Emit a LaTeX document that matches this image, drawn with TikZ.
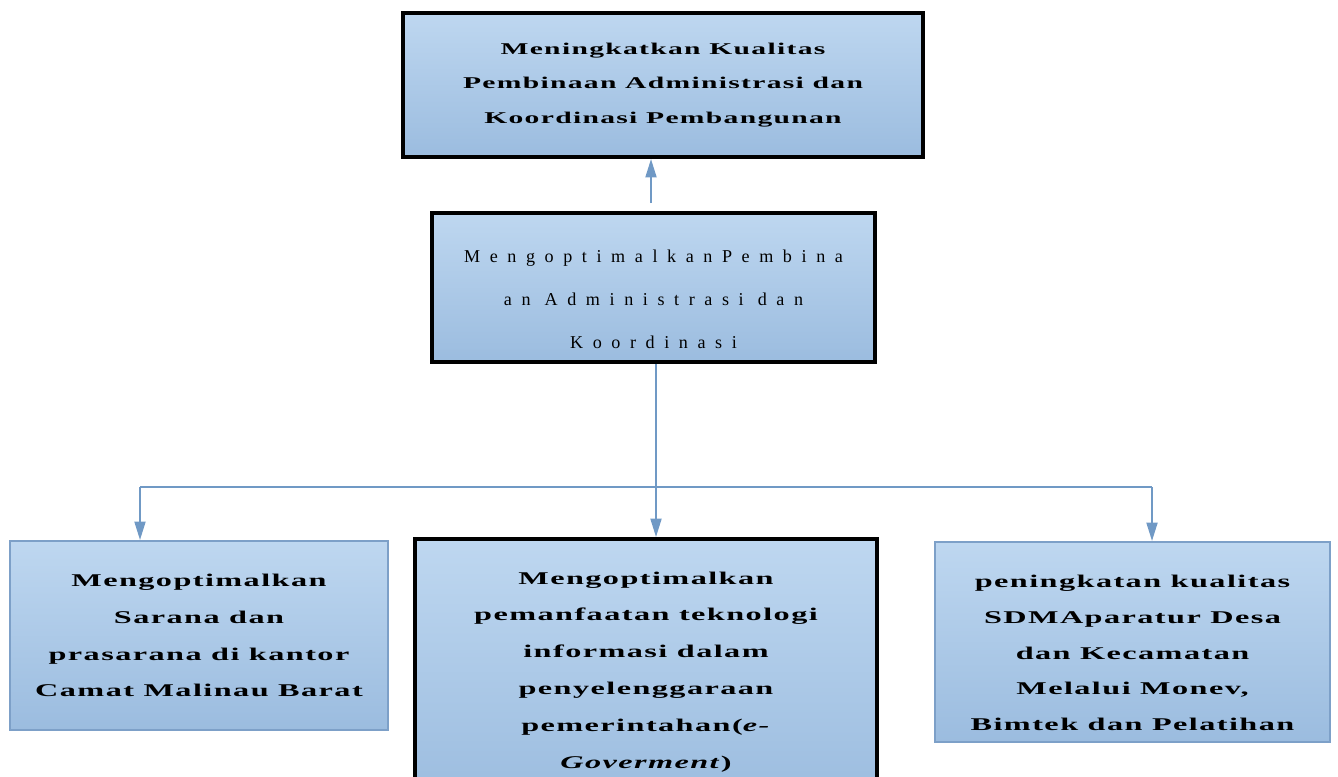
\documentclass[tikz,border=0pt]{standalone}
\usepackage{fontspec}
\setmainfont{Liberation Serif}
\newfontfamily\widefont[FakeStretch=1.8, LetterSpace=8]{Liberation Serif}
\newfontfamily\widerfont[LetterSpace=53]{Liberation Serif}
\usetikzlibrary{arrows.meta}
\definecolor{boxtop}{RGB}{190,215,240}
\definecolor{boxbottom}{RGB}{155,188,223}
\definecolor{linkblue}{RGB}{112,153,197}
\definecolor{rimblue}{RGB}{125,160,200}

\begin{document}
\begin{tikzpicture}[x=0.02cm, y=-0.02cm,
		box/.style={rectangle, top color=boxtop, bottom color=boxbottom, align=center, inner sep=0},
		boldbox/.style={box, draw=black, line width=0.08cm},
		thinbox/.style={box, draw=rimblue, line width=0.04cm},
		boxtext/.style={font=\widefont\bfseries\fontsize{10.2}{21}\selectfont},
		link/.style={draw=linkblue, line width=0.04cm},
		>={Triangle[width=0.22cm, length=0.37cm]}]
		\useasboundingbox (0,0) rectangle (1338,777);
		\clip (0,0) rectangle (1338,777);
		% boxes
		\node[boldbox, font=\widefont\bfseries\fontsize{9.35}{19.8}\selectfont, minimum width=10.4cm, minimum height=2.88cm] at(663,85) (goal)
			{Meningkatkan Kualitas\\Pembinaan Administrasi dan\\Koordinasi Pembangunan};
		\node[boldbox, font=\widerfont\fontsize{10.3}{24.4}\selectfont, minimum width=8.86cm, minimum height=2.98cm] at(653.5,287.5) (mid)
			{\rule{0pt}{0.71cm}MengoptimalkanPembina\\an Administrasi dan\\Koordinasi};
		\node[thinbox, boxtext, minimum width=7.56cm, minimum height=3.78cm] at(199,635.5) (left)
			{Mengoptimalkan\\Sarana dan\\prasarana di kantor\\Camat Malinau Barat};
		\node[boldbox, boxtext, minimum width=9.24cm, minimum height=5.32cm] at(646,672) (sub)
			{Mengoptimalkan\\pemanfaatan teknologi\\informasi dalam\\penyelenggaraan\\pemerintahan(\textit{e-}\\\textit{Goverment})};
		\node[thinbox, boxtext, font=\widefont\bfseries\fontsize{10.2}{20.3}\selectfont, minimum width=7.9cm, minimum height=4cm] at(1132.5,642) (right)
			{\rule{0pt}{0.69cm}peningkatan kualitas\\SDMAparatur Desa\\dan Kecamatan\\Melalui Monev,\\Bimtek dan Pelatihan};
		% connectors
		\coordinate (up) at(651,203);
		\coordinate (bus) at(656,487);
		\coordinate (busL) at(140,487);
		\coordinate (busR) at(1152,487);
		\draw[link,->] (up) -- (up |- goal.south);
		\draw[link] (bus |- mid.south) -- (bus);
		\draw[link] (busL) -- (busR);
		\path
			(busL) edge[link,->] (busL |- left.north)
			(bus) edge[link,->] (bus |- sub.north)
			(busR) edge[link,->] (busR |- right.north);
	\end{tikzpicture}
\end{document}
